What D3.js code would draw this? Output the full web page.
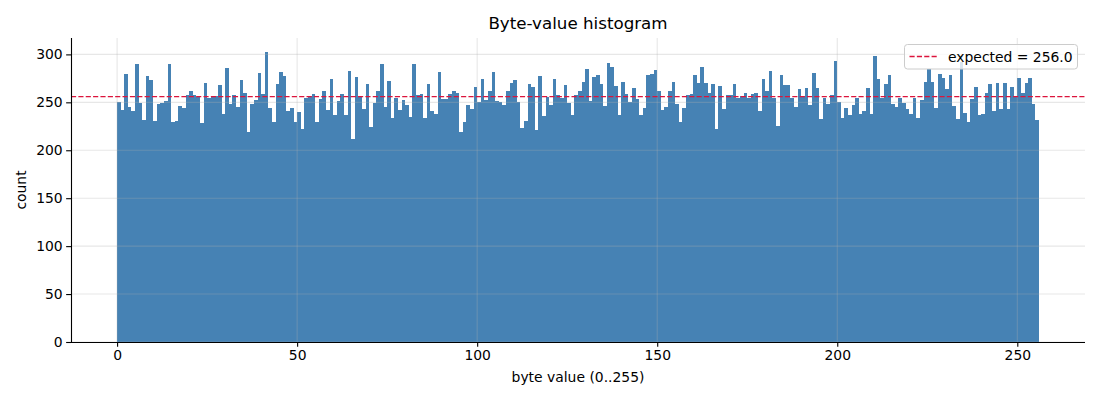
<!DOCTYPE html>
<html>
<head>
<meta charset="utf-8">
<script src="https://cdn.jsdelivr.net/npm/d3@7/dist/d3.min.js"></script>
<style>
  html, body { margin: 0; padding: 0; background: #fff; }
  svg { display: block; font-family: "DejaVu Sans", sans-serif; }
</style>
</head>
<body>
<svg id="chart" width="1100" height="400"></svg>
<script>
const counts = [
  250,242,280,245,241,290,249,232,277,273,231,248,249,251,290,229,
  231,246,244,258,262,258,256,228,270,255,256,257,268,238,286,248,
  258,245,273,260,219,248,252,281,259,302,244,230,269,282,277,241,
  244,230,240,222,254,257,259,229,253,262,242,274,237,251,259,237,
  283,212,276,256,243,269,224,249,262,290,245,272,234,255,242,252,
  247,235,290,258,259,234,269,241,238,282,253,253,259,262,260,219,
  230,247,243,266,250,274,252,262,282,251,250,247,262,270,273,250,
  223,231,269,266,221,277,236,256,247,274,258,255,268,249,237,258,
  262,271,285,251,276,278,269,246,291,287,267,237,271,259,250,265,
  253,237,244,279,280,284,262,242,245,262,271,248,229,244,258,259,
  278,270,287,270,260,269,222,267,243,258,258,269,255,257,260,255,
  259,260,241,274,262,283,255,225,278,268,268,255,245,264,257,265,
  247,281,265,233,254,248,258,293,250,234,244,237,247,255,238,241,
  265,238,298,274,255,269,278,248,245,254,249,243,238,254,234,252,
  271,285,271,244,280,275,264,279,246,233,292,239,230,253,266,237,
  238,260,269,241,270,243,270,243,266,257,275,260,270,275,248,232
];
const byteValues = d3.range(counts.length);
const expected = 256.0;
const xTicks = [0, 50, 100, 150, 200, 250];
const yTicks = [0, 50, 100, 150, 200, 250, 300];
const titleText = "Byte-value histogram";
const xLabel = "byte value (0..255)";
const yLabel = "count";
const legendText = "expected = " + expected.toFixed(1);

const svg = d3.select("#chart");
const L = 71, R = 1085, T = 38, B = 342;
const nBins = counts.length;
const xMargin = nBins * 0.05;
const x = d3.scaleLinear().domain([-xMargin, nBins + xMargin]).range([L, R]);
const yMax = d3.max(counts) * 1.05;
const y = d3.scaleLinear().domain([0, yMax]).range([B, T]);

const FS = 13.9;
const LW = 1.39;
const DASH = "5.14,2.22";

// bars
svg.append("g").attr("shape-rendering", "crispEdges").selectAll("rect").data(byteValues).join("rect")
  .attr("x", d => Math.round(x(d)))
  .attr("width", d => Math.round(x(d + 1)) - Math.round(x(d)))
  .attr("y", d => y(counts[d]))
  .attr("height", d => y(0) - y(counts[d]))
  .attr("fill", "#4682b4");

// grid (on top of bars)
const grid = svg.append("g").attr("stroke", "#b0b0b0").attr("stroke-opacity", 0.3).attr("stroke-width", 1.1);
grid.selectAll("line.gx").data(xTicks).join("line").attr("class", "gx")
  .attr("x1", d => x(d)).attr("x2", d => x(d)).attr("y1", T).attr("y2", B);
grid.selectAll("line.gy").data(yTicks).join("line").attr("class", "gy")
  .attr("x1", L).attr("x2", R).attr("y1", d => y(d)).attr("y2", d => y(d));

// expected line
svg.append("line")
  .attr("x1", L).attr("x2", R)
  .attr("y1", y(expected)).attr("y2", y(expected))
  .attr("stroke", "crimson").attr("stroke-width", LW)
  .attr("stroke-dasharray", DASH);

// axes
const xAxis = d3.axisBottom(x).tickValues(xTicks).tickSize(4.86).tickPadding(3.5).tickFormat(d3.format("d"));
const yAxis = d3.axisLeft(y).tickValues(yTicks).tickSize(4.86).tickPadding(3.5).tickFormat(d3.format("d"));
const gx = svg.append("g").attr("transform", `translate(0,${B})`).call(xAxis);
const gy = svg.append("g").attr("transform", `translate(${L},0)`).call(yAxis);
[gx, gy].forEach(g => {
  g.select(".domain").attr("stroke", "#000").attr("stroke-width", 1.1);
  g.selectAll(".tick line").attr("stroke", "#000").attr("stroke-width", 1.1);
  g.selectAll(".tick text").attr("fill", "#000").style("font-size", FS + "px")
    .style("font-family", "DejaVu Sans, sans-serif");
});
gx.select(".domain").attr("d", `M${L},0.5H${R}`);
gy.select(".domain").attr("d", `M0.5,${B}V${T}`);

// title & labels
svg.append("text").attr("x", (L + R) / 2).attr("y", 29).attr("text-anchor", "middle")
  .style("font-size", "16.7px").attr("fill", "#000").text(titleText);
svg.append("text").attr("x", (L + R) / 2).attr("y", 382).attr("text-anchor", "middle")
  .style("font-size", FS + "px").attr("fill", "#000").text(xLabel);
svg.append("text").attr("transform", `translate(26,${(T + B) / 2}) rotate(-90)`)
  .attr("text-anchor", "middle").style("font-size", FS + "px").attr("fill", "#000").text(yLabel);

// legend
const lg = svg.append("g");
lg.append("rect").attr("x", 904.5).attr("y", 44.5).attr("width", 173).attr("height", 24.5)
  .attr("rx", 3).attr("ry", 3)
  .attr("fill", "#fff").attr("fill-opacity", 0.8)
  .attr("stroke", "#cccccc").attr("stroke-width", 1);
lg.append("line").attr("x1", 909.5).attr("x2", 937.5).attr("y1", 56.5).attr("y2", 56.5)
  .attr("stroke", "crimson").attr("stroke-width", LW).attr("stroke-dasharray", DASH);
lg.append("text").attr("x", 948).attr("y", 61.5).style("font-size", FS + "px")
  .attr("fill", "#000").text(legendText);
</script>
</body>
</html>
